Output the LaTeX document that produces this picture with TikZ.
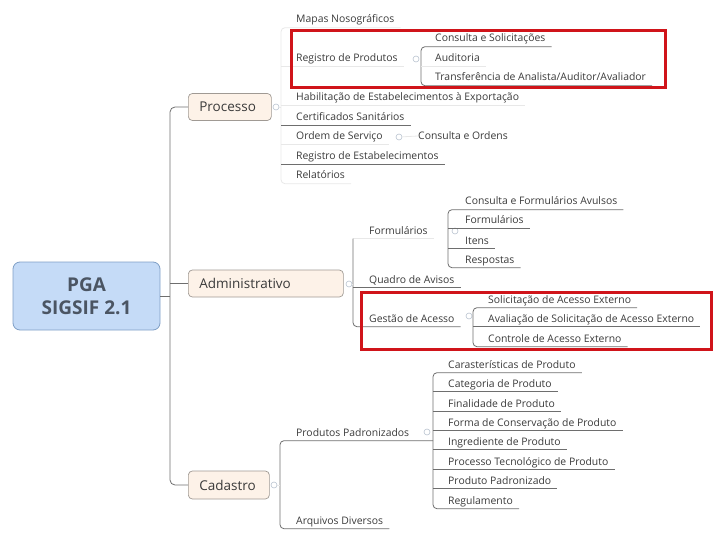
\documentclass[tikz,border=0pt]{standalone}
\usepackage{fontspec}
\setmainfont{Open Sans}
\definecolor{lncol}{HTML}{6E6E6E}
\definecolor{txt}{HTML}{3A3A3A}
\definecolor{peach}{HTML}{FDF2E8}
\definecolor{bord}{HTML}{A09A94}
\definecolor{rootfill}{HTML}{C5DBF7}
\definecolor{rootbord}{HTML}{7F9FC6}
\definecolor{roottxt}{HTML}{4B5563}
\definecolor{mk}{HTML}{B9C3CF}
\definecolor{redc}{HTML}{D0141A}
\tikzset{
 ln/.style={draw=lncol, line width=0.8pt},
 faint/.style={draw=black!9, line width=0.8pt},
 item/.style={anchor=west, inner xsep=0pt, text height=9.5pt, text depth=1.5pt, inner ysep=3pt, font=\fontsize{10.4}{11}\selectfont, text=txt},
 topic/.style={anchor=west, draw=bord, fill=peach, rounded corners=4pt, minimum height=27pt, inner xsep=11pt, align=left, font=\fontsize{13.5}{15}\selectfont, text=txt, line width=0.7pt},
 rootnode/.style={draw=rootbord, fill=rootfill, rounded corners=7pt, minimum width=147pt, minimum height=68pt, align=center, font=\fontsize{19}{23}\selectfont\bfseries, text=roottxt, line width=0.8pt},
 marker/.style={circle, draw=mk, fill=white, inner sep=0pt, minimum size=6pt, line width=0.6pt},
 redbox/.style={draw=redc, line width=3pt},
}
\begin{document}
\begin{tikzpicture}[x=1pt,y=-1pt]
\useasboundingbox (0,0) rectangle (720,540);
% root and main topics
\node[rootnode] (root) at (86.5,296) {PGA\\SIGSIF 2.1};
\node[topic, text width=61pt] (proc) at (188,107) {Processo};
\node[topic, text width=133pt] (adm) at (188,283.5) {Administrativo};
\node[topic, text width=59pt, minimum height=28pt] (cad) at (188,485) {Cadastro};
\coordinate (tr) at (170,0);
\draw[ln, rounded corners=5pt] (proc.west) -- (proc.west -| tr) -- (cad.west -| tr) -- (cad.west);
\draw[ln] (root.east) -- (root.east -| tr);
\draw[ln] (adm.west -| tr) -- (adm.west);
\node[marker] (mP) at (276,107) {};
\node[marker] (mA) at (349,284) {};
\node[marker] (mC) at (274,485) {};
% Processo children
\node[item] (p1) at (296,19) {Mapas Nosográficos};
\node[item] (p2) at (296,58) {Registro de Produtos};
\node[item] (p3) at (296,97) {Habilitação de Estabelecimentos à Exportação};
\node[item] (p4) at (296,117) {Certificados Sanitários};
\node[item] (p5) at (296,136) {Ordem de Serviço};
\node[item] (p6) at (296,156) {Registro de Estabelecimentos};
\node[item] (p7) at (296,175) {Relatórios};
\coordinate (bP) at (281,0);
\draw[faint, rounded corners=4pt] ([xshift=6pt]p1.south east) -- (p1.south -| bP) -- (p7.south -| bP) -- ([xshift=6pt]p7.south east);
\draw[faint] (p2.south -| bP) -- ([xshift=6pt]p2.south east);
\draw[faint] (p3.south -| bP) -- ([xshift=6pt]p3.south east);
\draw[faint] (p5.south -| bP) -- ([xshift=6pt]p5.south east);
\draw[ln] (p4.south -| bP) -- ([xshift=6pt]p4.south east);
\draw[ln] (p6.south -| bP) -- ([xshift=6pt]p6.south east);
\draw[faint] (mP) -- (mP -| bP);
% Registro de Produtos children
\node[item] (r1) at (435,38) {Consulta e Solicitações};
\node[item] (r2) at (435,58) {Auditoria};
\node[item] (r3) at (435,77) {Transferência de Analista/Auditor/Avaliador};
\coordinate (bR) at (421,0);
\draw[ln, rounded corners=4pt] ([xshift=6pt]r1.south east) -- (r1.south -| bR) -- (r3.south -| bR) -- ([xshift=6pt]r3.south east);
\draw[faint] (r2.south -| bR) -- ([xshift=6pt]r2.south east);
\node[marker] (mR) at (416,59) {};
% Ordem de Servico child
\node[marker] (mO) at (399,137) {};
\node[item] (o1) at (418,136) {Consulta e Ordens};
\draw[faint] (mO) -- (o1.west);
% Administrativo children
\node[item] (a1) at (369,230) {Formulários};
\node[item] (a2) at (369,279) {Quadro de Avisos};
\node[item] (a3) at (369,318) {Gestão de Acesso};
\coordinate (bA) at (353,0);
\draw[faint] (a1.south -| bA) -- ([xshift=6pt]a1.south east);
\draw[ln, rounded corners=4pt] (a1.south -| bA) -- (a3.south -| bA) -- ([xshift=6pt]a3.south east);
\draw[ln] (a2.south -| bA) -- ([xshift=6pt]a2.south east);
\draw[faint] (mA) -- (mA -| bA);
\node[marker] (mF) at (455,231) {};
\node[marker] (mG) at (469,316) {};
% Formularios children
\node[item] (f1) at (465,201) {Consulta e Formulários Avulsos};
\node[item] (f2) at (465,220) {Formulários};
\node[item] (f3) at (465,240) {Itens};
\node[item] (f4) at (465,259) {Respostas};
\coordinate (bF) at (448,0);
\draw[ln, rounded corners=4pt] ([xshift=6pt]f1.south east) -- (f1.south -| bF) -- (f4.south -| bF) -- ([xshift=6pt]f4.south east);
\draw[ln] (f2.south -| bF) -- ([xshift=6pt]f2.south east);
\draw[ln] (f3.south -| bF) -- ([xshift=6pt]f3.south east);
% Gestao de Acesso children
\node[item] (g1) at (488,299) {Solicitação de Acesso Externo};
\node[item] (g2) at (488,318) {Avaliação de Solicitação de Acesso Externo};
\node[item] (g3) at (488,338) {Controle de Acesso Externo};
\coordinate (bG) at (473,0);
\draw[ln, rounded corners=4pt] ([xshift=6pt]g1.south east) -- (g1.south -| bG) -- (g3.south -| bG) -- ([xshift=6pt]g3.south east);
\draw[ln] (g2.south -| bG) -- ([xshift=6pt]g2.south east);
% Cadastro children
\node[item] (c1) at (296,432) {Produtos Padronizados};
\node[item] (c2) at (296,520) {Arquivos Diversos};
\coordinate (bC) at (280,0);
\coordinate (bD) at (433,0);
\draw[ln, rounded corners=4pt] (c1.south -| bD) -- (c1.south -| bC) -- (c2.south -| bC) -- ([xshift=6pt]c2.south east);
\draw[faint] (mC) -- (mC -| bC);
\node[marker] (mD) at (427,432) {};
% Produtos Padronizados children
\node[item] (d1) at (448,364) {Carasterísticas de Produto};
\node[item] (d2) at (448,383) {Categoria de Produto};
\node[item] (d3) at (448,403) {Finalidade de Produto};
\node[item] (d4) at (448,422) {Forma de Conservação de Produto};
\node[item] (d5) at (448,441) {Ingrediente de Produto};
\node[item] (d6) at (448,461) {Processo Tecnológico de Produto};
\node[item] (d7) at (448,480) {Produto Padronizado};
\node[item] (d8) at (448,500) {Regulamento};
\draw[ln, rounded corners=4pt] ([xshift=6pt]d1.south east) -- (d1.south -| bD) -- (d8.south -| bD) -- ([xshift=6pt]d8.south east);
\foreach \n in {d2,d3,d4,d5,d6,d7}{\draw[ln] (\n.south -| bD) -- ([xshift=6pt]\n.south east);}
% highlight boxes
\draw[redbox] (291,31) rectangle (665,88);
\draw[redbox] (361,292) rectangle (711,349);
\end{tikzpicture}
\end{document}
